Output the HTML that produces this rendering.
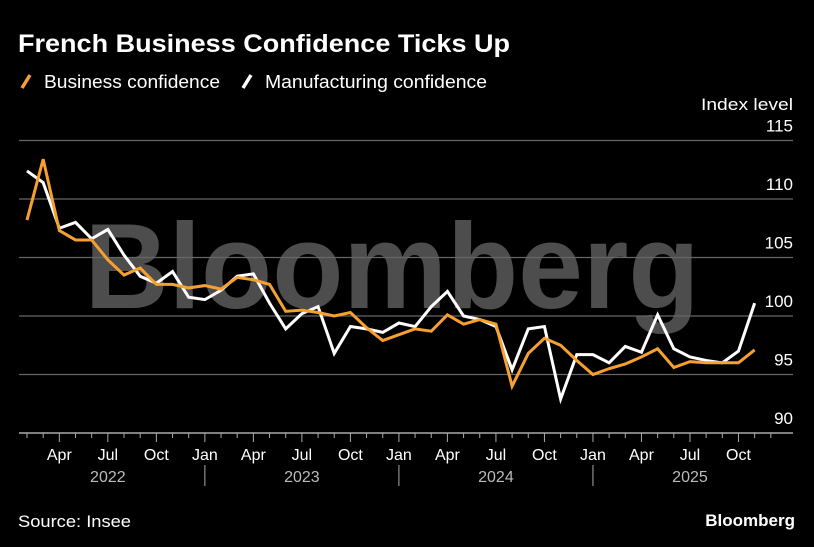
<!DOCTYPE html>
<html><head><meta charset="utf-8"><style>
body{margin:0;background:#000;width:814px;height:547px;overflow:hidden;font-family:"Liberation Sans",sans-serif;}
svg{display:block}
</style></head><body>
<svg id="c" width="814" height="547">
<text x="18" y="52" fill="#fff" font-size="25" font-weight="bold" textLength="492" lengthAdjust="spacingAndGlyphs">French Business Confidence Ticks Up</text>
<g>
<line x1="22" y1="88" x2="30" y2="75" stroke="#f5a030" stroke-width="3.5"/>
<text x="44" y="88" fill="#fff" font-size="18.5" textLength="176" lengthAdjust="spacingAndGlyphs">Business confidence</text>
<line x1="243" y1="88" x2="251" y2="75" stroke="#fff" stroke-width="3.5"/>
<text x="265" y="88" fill="#fff" font-size="18.5" textLength="222" lengthAdjust="spacingAndGlyphs">Manufacturing confidence</text>
</g>
<text x="793" y="110" fill="#fff" font-size="17" text-anchor="end" textLength="92" lengthAdjust="spacingAndGlyphs">Index level</text>
<text x="392" y="308" fill="#4d4d4d" font-size="122" font-weight="bold" text-anchor="middle" textLength="615" lengthAdjust="spacingAndGlyphs">Bloomberg</text>
<g id="grid"></g>
<g id="ax"></g>
<g id="lines"></g>
<text x="18" y="527" fill="#fff" font-size="17" textLength="113" lengthAdjust="spacingAndGlyphs">Source: Insee</text>
<text x="795" y="526" fill="#fff" font-size="17" font-weight="bold" text-anchor="end">Bloomberg</text>
</svg>
<script>
const yTicks=[90,95,100,105,110,115];
const business=[108.2,113.4,107.3,106.5,106.5,104.8,103.5,104.1,102.7,102.7,102.4,102.6,102.3,103.3,103.1,102.7,100.4,100.5,100.3,100.0,100.3,99.0,97.9,98.4,98.9,98.7,100.1,99.3,99.7,99.3,94.0,96.8,98.1,97.5,96.2,95.0,95.5,95.9,96.5,97.2,95.6,96.1,96.0,96.0,96.0,97.1];
const manufacturing=[112.4,111.4,107.5,108.0,106.6,107.4,105.2,103.4,102.8,103.8,101.6,101.4,102.2,103.4,103.6,101.1,98.9,100.2,100.8,96.8,99.1,98.9,98.6,99.4,99.1,100.8,102.1,100.0,99.7,99.1,95.4,98.9,99.1,92.9,96.7,96.7,96.0,97.4,96.9,100.1,97.2,96.5,96.2,96.0,97.0,101.1];
const monthLabels=["Jan","Apr","Jul","Oct"];
const years=["2022","2023","2024","2025"];
const NS="http://www.w3.org/2000/svg";
const X=i=>27+i*16.17; // i=0 -> Feb 2022
const Y=v=>433-(v-90)*11.7;
function mk(t,a,p){const e=document.createElementNS(NS,t);for(const k in a)e.setAttribute(k,a[k]);p.appendChild(e);return e;}
const grid=document.getElementById('grid'),ax=document.getElementById('ax'),lines=document.getElementById('lines');
yTicks.forEach(v=>{
  if(v>90){const l=mk('line',{x1:19,x2:793,y1:Y(v),y2:Y(v),stroke:'#666','stroke-width':1.2},grid);
  
  }
  const t=mk('text',{x:793,y:Y(v)-9,fill:'#fff','font-size':17,'text-anchor':'end'},grid);t.textContent=v;
  
  
});
const axl=mk('line',{x1:19,x2:793,y1:433,y2:433,stroke:'#aaa','stroke-width':1.5},ax);


for(let i=-1;i<47;i++){
  const x=X(i);if(x<19||x>793)continue;
  const m=(i+1)%12;
  const major=m%3===0;
  const tk=mk('line',{x1:x,x2:x,y1:433,y2:major?442:438,stroke:'#aaa','stroke-width':1},ax);
  
  
  if(major){const t=mk('text',{x:x,y:460,fill:'#fff','font-size':16,'text-anchor':'middle'},ax);t.textContent=monthLabels[m/3];
    
    }
  if(m===0&&i>0){const s=mk('line',{x1:x,x2:x,y1:465,y2:486,stroke:'#aaa','stroke-width':1},ax);
    
    }
}
years.forEach((y,k)=>{const t=mk('text',{x:X(k*12+5),y:482,fill:'#bbb','font-size':16,'text-anchor':'middle'},ax);t.textContent=y;
  
  });
function series(d,c,n){const p=mk('polyline',{points:d.map((v,i)=>X(i)+','+Y(v)).join(' '),fill:'none',stroke:c,'stroke-width':3,'stroke-linejoin':'miter'},lines);
  
  }
series(manufacturing,'#fff','manufacturing-line');
series(business,'#f5a030','business-line');
</script>
</body></html>
